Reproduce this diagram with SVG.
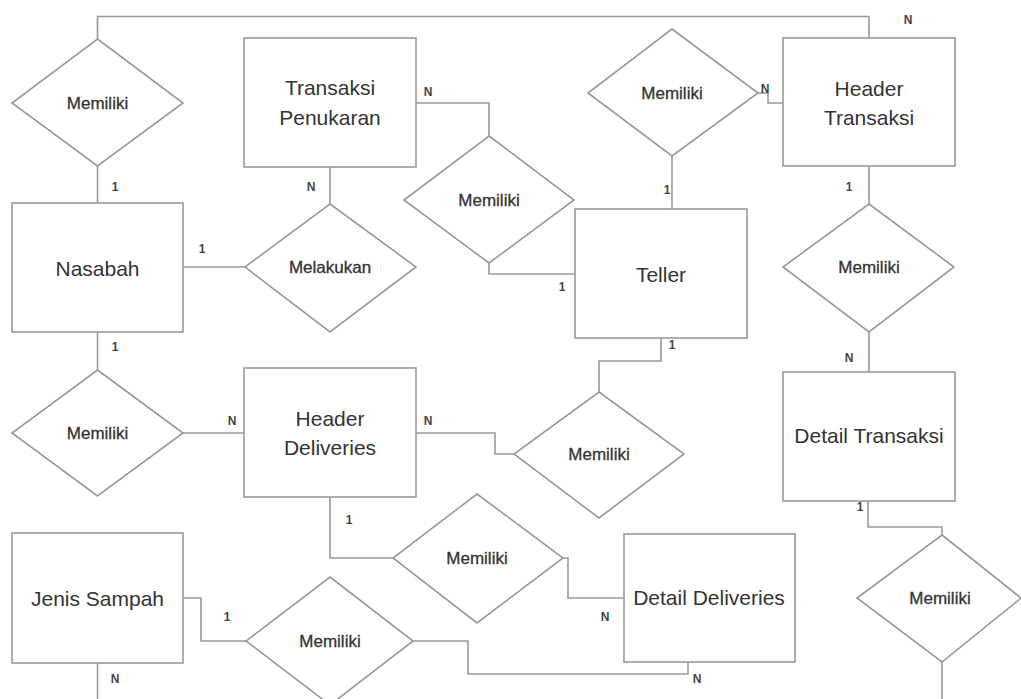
<svg xmlns="http://www.w3.org/2000/svg" width="1021" height="699" viewBox="0 0 1021 699">
<style>
.shape{fill:#fff;stroke:#999;stroke-width:1.6}
.conn{fill:none;stroke:#999;stroke-width:1.6}
.ent{font-family:"Liberation Sans",Arial,sans-serif;font-size:21px;fill:#333;text-anchor:middle}
.rel{font-family:"Liberation Sans",Arial,sans-serif;font-size:17px;fill:#333;stroke:#333;stroke-width:0.3;text-anchor:middle}
.card{font-family:"Liberation Sans",Arial,sans-serif;font-size:12px;font-weight:bold;fill:#444;text-anchor:middle}
</style>
<rect width="1021" height="699" fill="#fff"/>
<g id="connectors">
<polyline class="conn" points="869,38 869,16.5 97.5,16.5 97.5,39"/>
<line class="conn" x1="97.5" y1="166" x2="97.5" y2="203"/>
<line class="conn" x1="330" y1="167" x2="330" y2="204"/>
<line class="conn" x1="183" y1="267" x2="245" y2="267"/>
<polyline class="conn" points="416,103 489,103 489,136"/>
<polyline class="conn" points="489,263 489,274 575,274"/>
<polyline class="conn" points="758,93 768,93 768,103 783,103"/>
<line class="conn" x1="672" y1="156" x2="672" y2="209"/>
<line class="conn" x1="869" y1="166" x2="869" y2="204"/>
<line class="conn" x1="869" y1="332" x2="869" y2="372"/>
<polyline class="conn" points="868,501 868,527 942,527 942,535"/>
<line class="conn" x1="942" y1="662" x2="942" y2="699"/>
<polyline class="conn" points="661,338 661,361 599,361 599,392"/>
<polyline class="conn" points="416,433 495,433 495,454 514,454"/>
<line class="conn" x1="97.5" y1="332" x2="97.5" y2="370"/>
<line class="conn" x1="183" y1="433" x2="244" y2="433"/>
<polyline class="conn" points="330,497 330,558 393,558"/>
<polyline class="conn" points="563,558 568,558 568,598 624,598"/>
<polyline class="conn" points="183,598 201,598 201,641 246,641"/>
<polyline class="conn" points="413,641 468,641 468,674 688,674 688,662"/>
<line class="conn" x1="97.5" y1="663" x2="97.5" y2="699"/>
</g>
<g id="labels">
<text class="card" x="115" y="191">1</text>
<text class="card" x="311" y="191">N</text>
<text class="card" x="202" y="253">1</text>
<text class="card" x="428" y="96">N</text>
<text class="card" x="562" y="291">1</text>
<text class="card" x="765" y="93">N</text>
<text class="card" x="908" y="24">N</text>
<text class="card" x="667" y="194">1</text>
<text class="card" x="849" y="191">1</text>
<text class="card" x="115" y="351">1</text>
<text class="card" x="232" y="425">N</text>
<text class="card" x="428" y="425">N</text>
<text class="card" x="672" y="349">1</text>
<text class="card" x="849" y="362">N</text>
<text class="card" x="349" y="524">1</text>
<text class="card" x="860" y="511">1</text>
<text class="card" x="605" y="621">N</text>
<text class="card" x="227" y="621">1</text>
<text class="card" x="115" y="683">N</text>
<text class="card" x="697" y="683">N</text>
</g>
<g id="nasabah"><rect class="shape" x="12" y="203" width="171" height="129"/><text class="ent" x="97.5" y="276">Nasabah</text></g>
<g id="transaksi-penukaran"><rect class="shape" x="244" y="38" width="172" height="129"/><text class="ent" x="330" y="95">Transaksi</text><text class="ent" x="330" y="125">Penukaran</text></g>
<g id="header-transaksi"><rect class="shape" x="783" y="38" width="172" height="128"/><text class="ent" x="869" y="96">Header</text><text class="ent" x="869" y="125">Transaksi</text></g>
<g id="teller"><rect class="shape" x="575" y="209" width="172" height="129"/><text class="ent" x="661" y="282">Teller</text></g>
<g id="header-deliveries"><rect class="shape" x="244" y="368" width="172" height="129"/><text class="ent" x="330" y="426">Header</text><text class="ent" x="330" y="455">Deliveries</text></g>
<g id="detail-transaksi"><rect class="shape" x="783" y="372" width="172" height="129"/><text class="ent" x="869" y="443">Detail Transaksi</text></g>
<g id="detail-deliveries"><rect class="shape" x="624" y="534" width="171" height="128"/><text class="ent" x="709" y="605">Detail Deliveries</text></g>
<g id="jenis-sampah"><rect class="shape" x="12" y="533" width="171" height="130"/><text class="ent" x="97.5" y="606">Jenis Sampah</text></g>
<g id="rel-memiliki-1"><polygon class="shape" points="97.5,39 183,103 97.5,166 12,103"/><text class="rel" x="97.5" y="109">Memiliki</text></g>
<g id="rel-melakukan"><polygon class="shape" points="330,204 416,267 330,332 245,267"/><text class="rel" x="330" y="273">Melakukan</text></g>
<g id="rel-memiliki-2"><polygon class="shape" points="489,136 574,200 489,263 404,200"/><text class="rel" x="489" y="206">Memiliki</text></g>
<g id="rel-memiliki-3"><polygon class="shape" points="672,29 758,93 672,156 588,93"/><text class="rel" x="672" y="99">Memiliki</text></g>
<g id="rel-memiliki-4"><polygon class="shape" points="869,204 954,267 869,332 783,267"/><text class="rel" x="869" y="273">Memiliki</text></g>
<g id="rel-memiliki-5"><polygon class="shape" points="97.5,370 183,433 97.5,496 12,433"/><text class="rel" x="97.5" y="439">Memiliki</text></g>
<g id="rel-memiliki-6"><polygon class="shape" points="599,392 684,454 599,518 514,454"/><text class="rel" x="599" y="460">Memiliki</text></g>
<g id="rel-memiliki-7"><polygon class="shape" points="477,494 563,558 477,623 393,558"/><text class="rel" x="477" y="564">Memiliki</text></g>
<g id="rel-memiliki-8"><polygon class="shape" points="330,577 413,641 330,705 246,641"/><text class="rel" x="330" y="647">Memiliki</text></g>
<g id="rel-memiliki-9"><polygon class="shape" points="942,535 1021,598 942,662 857,598"/><text class="rel" x="940" y="604">Memiliki</text></g>
</svg>
